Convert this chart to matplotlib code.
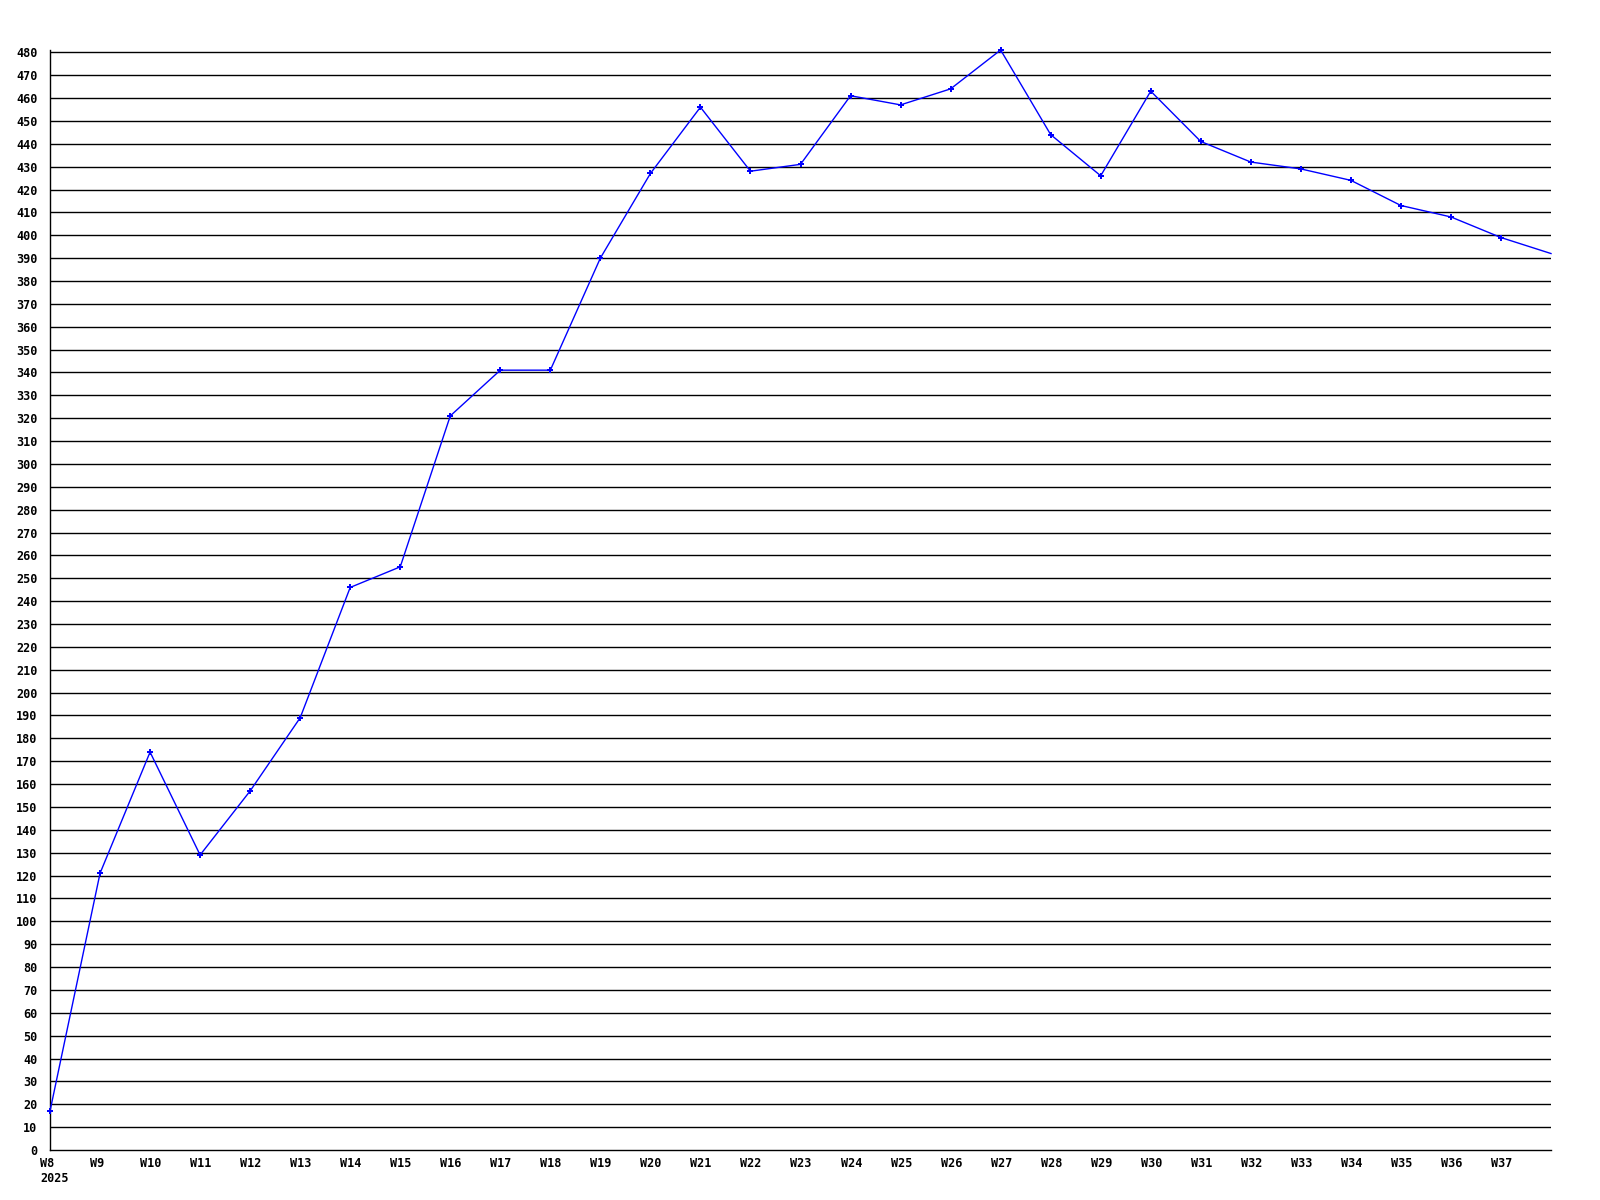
import numpy as np
from matplotlib import pyplot as plt
from matplotlib import transforms

# weekly values, W8 .. W38 (2025)
weeks = ["W%d" % w for w in range(8, 39)]
values = [17, 121, 174, 129, 157, 189, 246, 255, 321, 341,
          341, 390, 427, 456, 428, 431, 461, 457, 464, 481,
          444, 426, 463, 441, 432, 429, 424, 413, 408, 399,
          392]
year_label = "2025"

fig = plt.figure(figsize=(16, 12), dpi=100)
ax = fig.add_axes([50 / 1600, 50 / 1200, 1501 / 1600, 1100 / 1200])

x = np.arange(len(values))
ax.plot(x, values, color="#0000ff", linewidth=1.0, marker="P",
        markersize=4.5, markeredgewidth=0, zorder=3, clip_on=False,
        markevery=list(range(len(values) - 1)))

ax.set_xlim(0, len(values) - 1)
ax.set_ylim(0, 481)

yticks = np.arange(0, 490, 10)
ax.set_yticks(yticks)
ax.set_yticklabels([str(v) for v in yticks])
for v in yticks[1:]:
    ax.axhline(v, color="black", linewidth=1.0, zorder=1)

font = dict(family="DejaVu Sans Mono", weight="bold", size=8.5)

# x labels: left edge 10 px left of each week position
ax.set_xticks([])
offset = transforms.ScaledTranslation(-10 / 100, -7 / 100, fig.dpi_scale_trans)
trans = ax.get_xaxis_transform() + offset
for i, w in enumerate(weeks[:-1]):
    txt = w + "\n" + year_label if i == 0 else w
    ax.text(x[i], 0, txt, transform=trans, ha="left", va="top",
            linespacing=1.25, **font)

ax.tick_params(axis="both", length=0)
ax.tick_params(axis="y", pad=9)
for lab in ax.get_yticklabels():
    lab.set_fontfamily(font["family"])
    lab.set_fontweight(font["weight"])
    lab.set_fontsize(font["size"])

for side in ["top", "right"]:
    ax.spines[side].set_visible(False)
for side in ["left", "bottom"]:
    ax.spines[side].set_linewidth(1.0)
    ax.spines[side].set_color("black")

fig.savefig("out.png", dpi=100)
